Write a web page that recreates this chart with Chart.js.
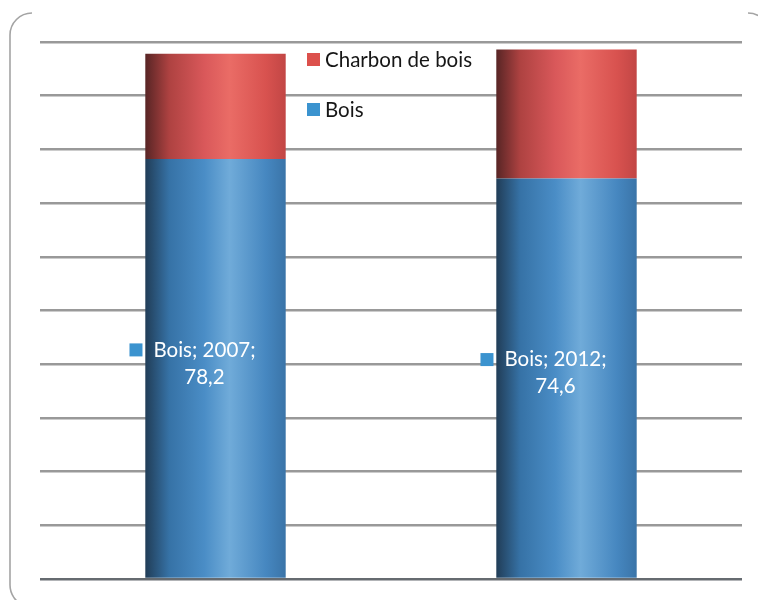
<!DOCTYPE html>
<html>
<head>
<meta charset="utf-8">
<script src="https://cdn.jsdelivr.net/npm/chart.js@4/dist/chart.umd.min.js"></script>
<style>
  html, body { margin: 0; padding: 0; background: #ffffff; }
  canvas { display: block; }
</style>
</head>
<body>
<canvas id="chart" width="758" height="600"></canvas>
<script>
// Wood-energy consumption shares by year (%)
const years = ['2007', '2012'];
const bois = [78.2, 74.6];
const charbonDeBois = [19.6, 24.0];
const seriesNames = ['Bois', 'Charbon de bois'];
const yMax = 100;
const yStep = 10;

const FONT = '20.5px Lato, "Open Sans", sans-serif';
const keyColors = { bois: '#3b93cf', charbon: '#dc504c' };

// Horizontal shading that gives each bar a cylindrical look
const shades = {
  bois: [[0, '#213d57'], [0.17, '#3672a6'], [0.42, '#4a8dc6'], [0.6, '#70abd9'], [0.86, '#4687c0'], [1, '#3a74a8']],
  charbon: [[0, '#582525'], [0.17, '#ae4241'], [0.42, '#d9585a'], [0.6, '#ea6c66'], [0.86, '#d8524f'], [1, '#c24645']]
};

const fmt = v => v.toFixed(1).replace('.', ',');

const cylinder = {
  id: 'cylinder',
  beforeDatasetsDraw(chart) {
    const ctx = chart.ctx;
    chart.data.datasets.forEach((ds, i) => {
      chart.getDatasetMeta(i).data.forEach(el => {
        const left = el.x - el.width / 2;
        const g = ctx.createLinearGradient(left, 0, left + el.width, 0);
        shades[ds.shade].forEach(([o, c]) => g.addColorStop(o, c));
        el.options = Object.assign({}, el.options, { backgroundColor: g });
      });
    });
  }
};

// Rounded frame corners around the plot
const frame = {
  id: 'frame',
  beforeDraw(chart) {
    const ctx = chart.ctx;
    ctx.save();
    ctx.strokeStyle = '#a4a4a4';
    ctx.lineWidth = 1.6;
    ctx.beginPath();
    ctx.arc(32, 35, 22, 1.5 * Math.PI, Math.PI, true);
    ctx.lineTo(10, 585);
    ctx.arc(32, 585, 22, Math.PI, 0.62 * Math.PI, true);
    ctx.stroke();
    ctx.beginPath();
    ctx.arc(748, 35, 22, 1.5 * Math.PI, 1.5 * Math.PI + 0.48);
    ctx.stroke();
    ctx.restore();
  }
};

// In-bar value labels for the Bois series
const boisLabels = {
  id: 'boisLabels',
  afterDatasetsDraw(chart) {
    const ctx = chart.ctx;
    const meta = chart.getDatasetMeta(0);
    ctx.save();
    ctx.font = FONT;
    ctx.textAlign = 'center';
    ctx.textBaseline = 'middle';
    meta.data.forEach((el, i) => {
      const cx = el.x - 11;
      const cy = (el.y + el.base) / 2 - 5;
      const line1 = seriesNames[0] + '; ' + years[i] + ';';
      const line2 = fmt(bois[i]);
      const w = ctx.measureText(line1).width;
      ctx.fillStyle = '#ffffff';
      ctx.fillText(line1, cx, cy - 13.5);
      ctx.fillText(line2, cx, cy + 13.5);
      ctx.fillStyle = keyColors.bois;
      ctx.fillRect(cx - w / 2 - 24, cy - 13.5 - 6.5, 13, 13);
    });
    ctx.restore();
  }
};

// Legend placed inside the plot, top series first
const insideLegend = {
  id: 'insideLegend',
  afterDraw(chart) {
    const ctx = chart.ctx;
    const items = [
      { text: seriesNames[1], color: keyColors.charbon, y: 59.5 },
      { text: seriesNames[0], color: keyColors.bois, y: 109.5 }
    ];
    ctx.save();
    ctx.font = FONT;
    ctx.textAlign = 'left';
    ctx.textBaseline = 'middle';
    items.forEach(it => {
      ctx.fillStyle = it.color;
      ctx.fillRect(307, it.y - 6.5, 13, 13);
      ctx.fillStyle = '#161616';
      ctx.fillText(it.text, 325, it.y + 1);
    });
    ctx.restore();
  }
};

new Chart(document.getElementById('chart'), {
  type: 'bar',
  data: {
    labels: years,
    datasets: [
      { label: seriesNames[0], data: bois, shade: 'bois', backgroundColor: keyColors.bois, borderWidth: 0 },
      { label: seriesNames[1], data: charbonDeBois, shade: 'charbon', backgroundColor: keyColors.charbon, borderWidth: 0 }
    ]
  },
  options: {
    responsive: false,
    animation: false,
    events: [],
    layout: { padding: { left: 40, right: 16, top: 42, bottom: 21 } },
    datasets: { bar: { barPercentage: 0.4, categoryPercentage: 1 } },
    plugins: { legend: { display: false }, tooltip: { enabled: false } },
    scales: {
      x: {
        stacked: true,
        grid: { display: false, drawTicks: false },
        border: { display: false },
        ticks: { display: false }
      },
      y: {
        stacked: true,
        min: 0,
        max: yMax,
        ticks: { display: false, stepSize: yStep },
        border: { display: false },
        grid: {
          drawTicks: false,
          lineWidth: 2.5,
          color: c => (c.tick && c.tick.value === 0 ? '#666b70' : '#999999')
        }
      }
    }
  },
  plugins: [frame, cylinder, boisLabels, insideLegend]
});
</script>
</body>
</html>
